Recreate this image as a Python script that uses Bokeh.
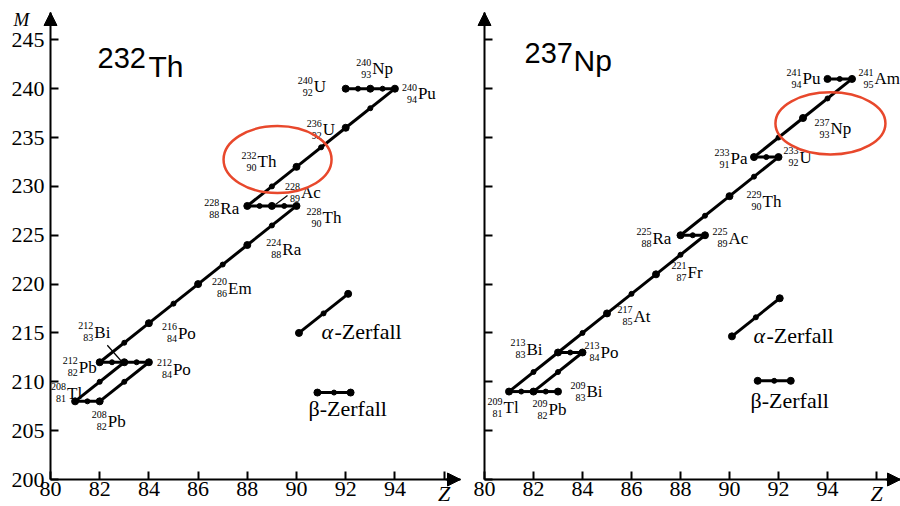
from bokeh.plotting import figure
from bokeh.layouts import row
from bokeh.models import Label, Arrow, NormalHead, FixedTicker, CustomLabelingPolicy
from bokeh.core.properties import value
from bokeh.embed import file_html
from bokeh.resources import INLINE

# ---------------- data: 232Th decay chain ----------------
th_sym = ["U", "Np", "Pu", "U", "Th", "Ra", "Ac", "Th", "Ra", "Em", "Po", "Pb", "Bi", "Po", "Tl", "Pb"]
th_Z = [92, 93, 94, 92, 90, 88, 89, 90, 88, 86, 84, 82, 83, 84, 81, 82]
th_A = [240, 240, 240, 236, 232, 228, 228, 228, 224, 220, 216, 212, 212, 212, 208, 208]
th_decays = [(0, 1), (1, 2), (2, 3), (3, 4), (4, 5), (5, 6), (6, 7), (7, 8), (8, 9),
             (9, 10), (10, 11), (11, 12), (12, 13), (13, 15), (12, 14), (14, 15)]

# ---------------- data: 237Np decay chain ----------------
np_sym = ["Pu", "Am", "Np", "Pa", "U", "Th", "Ra", "Ac", "Fr", "At", "Bi", "Po", "Tl", "Pb", "Bi"]
np_Z = [94, 95, 93, 91, 92, 90, 88, 89, 87, 85, 83, 84, 81, 82, 83]
np_A = [241, 241, 237, 233, 233, 229, 225, 225, 221, 217, 213, 213, 209, 209, 209]
np_decays = [(0, 1), (1, 2), (2, 3), (3, 4), (4, 5), (5, 6), (6, 7), (7, 8), (8, 9),
             (9, 10), (10, 11), (11, 13), (13, 14), (10, 12), (12, 13)]

# highlighted start nuclide rings (centre Z, centre M, width dZ, height dM)
th_ring = [89.23, 232.75, 4.39, 6.86]
np_ring = [94.12, 236.45, 4.49, 6.35]

# legend example decays
th_alpha_Z = [90.1, 92.1]; th_alpha_M = [215.0, 219.0]
th_beta_Z = [90.85, 92.2]; th_beta_M = [208.9, 208.9]
np_alpha_Z = [90.1, 92.05]; np_alpha_M = [214.65, 218.55]
np_beta_Z = [91.15, 92.5]; np_beta_M = [210.1, 210.1]

x_ticks = [80, 82, 84, 86, 88, 90, 92, 94, 96]
y_ticks = [200, 205, 210, 215, 220, 225, 230, 235, 240, 245]

# ---------------- layout (pixel positions / offsets of texts) ----------------
th_dx = [-32, 2, 23, -23, -39, -27, 29, 26, 35, 30, 29, -21, -30, 24, -8, 8]
th_dy = [-2, -20, 5, 2, -5, 3, -13, 12, 4, 4, 10, 5, -30, 7, -8, 20]
np_dx = [-25, 22.5, 27.5, -23.5, 21, 33, -28, 23.5, 31.5, 26.5, -31.5, 18, -5.5, 15, 28.5]
np_dy = [0, 0, 10.5, 1.5, 0, 5, 3, 3, -2, 3, -3, 0, 16, 18, 0]
th_leaders = [(12, -17, -17, -2, 0), (6, 15.6, -10.4, 3.6, -1.4)]

PXM = 9.77
SERIF = "Liberation Serif"
RED = "#E8482C"
M_TOP = 247.8

HIDE_ALL = CustomLabelingPolicy(code="""
for (const i of indices) { indices.unset(i) }
return indices
""")
HIDE_LAST = CustomLabelingPolicy(code="""
let last = -1
for (const i of indices) { last = i }
if (last >= 0) { indices.unset(last) }
return indices
""")


def panel(sym, Z, A, decays, dx, dy, pxz, fig_w, b_left, b_right, show_y,
          title_num, title_el, tpos, ring, aZ, aM, bZ, bM, a_px, b_px, leaders):
    x_end = 80 + (fig_w - b_left - b_right) / pxz

    def X(px):   # pixel column inside this figure -> Z
        return 80 + (px - b_left) / pxz

    def Y(py):   # pixel row -> M
        return 200 + (479 - py) / PXM

    p = figure(width=fig_w, height=506,
               x_range=(X(0), X(fig_w)), y_range=(Y(506), Y(0)),
               output_backend="svg", toolbar_location=None,
               min_border_left=0, min_border_right=0, min_border_top=0, min_border_bottom=0)
    p.outline_line_color = None
    p.grid.visible = False
    p.background_fill_color = "white"
    p.border_fill_color = "white"

    for ax in (p.xaxis[0], p.yaxis[0]):
        ax.axis_line_width = 2
        ax.major_tick_line_width = 2
        ax.major_tick_in = 8
        ax.major_tick_out = 0
        ax.minor_tick_in = 0
        ax.minor_tick_out = 0
        ax.major_label_text_font = SERIF
        ax.major_label_text_font_size = "22px"
        ax.major_label_text_color = "black"
    p.xaxis.fixed_location = 200
    p.xaxis.bounds = (80, x_end)
    p.xaxis.ticker = FixedTicker(ticks=x_ticks)
    p.xaxis.major_label_policy = HIDE_LAST
    p.xaxis.major_label_standoff = 2
    p.yaxis.fixed_location = 80
    p.yaxis.bounds = (200, M_TOP)
    p.yaxis.ticker = FixedTicker(ticks=y_ticks)
    p.yaxis.major_label_standoff = 6
    if not show_y:
        p.yaxis.major_label_policy = HIDE_ALL

    # axis arrow heads
    p.add_layout(Arrow(end=NormalHead(size=13, fill_color="black", line_color="black"),
                       x_start=80, y_start=M_TOP - 1.3, x_end=80, y_end=M_TOP, line_width=2))
    p.add_layout(Arrow(end=NormalHead(size=13, fill_color="black", line_color="black"),
                       x_start=x_end - 0.6, y_start=200, x_end=x_end, y_end=200, line_width=2))
    # axis names
    p.add_layout(Label(x=96, y=Y(493), text="Z", text_font=SERIF, text_font_style="italic",
                       text_font_size="22px", text_align="center", text_baseline="middle",
                       text_color="black"))
    if show_y:
        p.add_layout(Label(x=X(13), y=Y(19), text="M", text_font=SERIF,
                           text_font_style="italic", text_font_size="19px",
                           text_baseline="middle", text_color="black"))

    # decay segments
    x0 = [Z[i] for i, j in decays]; y0 = [A[i] for i, j in decays]
    x1 = [Z[j] for i, j in decays]; y1 = [A[j] for i, j in decays]
    p.segment(x0, y0, x1, y1, line_color="black", line_width=3)
    p.scatter([(a + b) / 2 for a, b in zip(x0, x1)], [(a + b) / 2 for a, b in zip(y0, y1)],
              size=5, color="black")
    p.scatter(Z, A, size=7, color="black")

    # leader lines
    for k, ox0, oy0, ox1, oy1 in leaders:
        p.segment([Z[k] + ox0 / pxz], [A[k] - oy0 / PXM], [Z[k] + ox1 / pxz], [A[k] - oy1 / PXM],
                  line_color="black", line_width=1.2)

    # nuclide labels
    sx = [z + d / pxz for z, d in zip(Z, dx)]
    sy = [a - d / PXM for a, d in zip(A, dy)]
    p.text(x=sx, y=sy, text=sym, text_font=value(SERIF), text_font_size="17px",
           text_align="left", text_baseline="middle", text_color="black")
    p.text(x=[x - 1 / pxz for x in sx], y=[y + 6.5 / PXM for y in sy], text=[str(a) for a in A],
           text_font=value(SERIF), text_font_size="10px", text_align="right",
           text_baseline="middle", text_color="black")
    p.text(x=[x - 1 / pxz for x in sx], y=[y - 5.5 / PXM for y in sy], text=[str(z) for z in Z],
           text_font=value(SERIF), text_font_size="10px", text_align="right",
           text_baseline="middle", text_color="black")

    # legend examples
    p.line(aZ, aM, line_color="black", line_width=3)
    p.scatter(aZ + [sum(aZ) / 2], aM + [sum(aM) / 2], size=[7, 7, 5], color="black")
    p.line(bZ, bM, line_color="black", line_width=3)
    p.scatter(bZ + [sum(bZ) / 2], bM + [sum(bM) / 2], size=[7, 7, 5], color="black")
    p.add_layout(Label(x=X(a_px[0]), y=Y(a_px[1]), text="α", text_font=SERIF,
                       text_font_style="italic", text_font_size="22px",
                       text_baseline="middle", text_color="black"))
    p.add_layout(Label(x=X(a_px[0] + 13), y=Y(a_px[1]), text="-Zerfall", text_font=SERIF,
                       text_font_size="22px", text_baseline="middle", text_color="black"))
    p.add_layout(Label(x=X(b_px[0]), y=Y(b_px[1]), text="β-Zerfall", text_font=SERIF,
                       text_font_size="22px", text_baseline="middle", text_color="black"))

    # title
    p.add_layout(Label(x=X(tpos[0]), y=Y(tpos[1]), text=title_num, text_font="Liberation Sans",
                       text_font_size="29px", text_baseline="middle", text_color="black"))
    p.add_layout(Label(x=X(tpos[2]), y=Y(tpos[3]), text=title_el, text_font="Liberation Sans",
                       text_font_size="30px", text_baseline="middle", text_color="black"))

    # highlight ring
    p.ellipse(x=[ring[0]], y=[ring[1]], width=[ring[2]], height=[ring[3]],
              fill_color=None, line_color=RED, line_width=2.5)
    return p


left = panel(th_sym, th_Z, th_A, th_decays, th_dx, th_dy, 24.6, 465, 50, 5, True,
             "232", "Th", (97, 57.5, 148, 66), th_ring,
             th_alpha_Z, th_alpha_M, th_beta_Z, th_beta_M,
             (321, 331), (308, 408), th_leaders)
right = panel(np_sym, np_Z, np_A, np_decays, np_dx, np_dy, 24.5, 435, 19, 0, False,
              "237", "Np", (525 - 465 - 1, 52.5, 574 - 465 - 1, 60), np_ring,
              np_alpha_Z, np_alpha_M, np_beta_Z, np_beta_M,
              (753 - 465, 335), (750 - 465, 400), [])

layout = row(left, right)
open("out.html", "w").write(file_html(layout, INLINE))
